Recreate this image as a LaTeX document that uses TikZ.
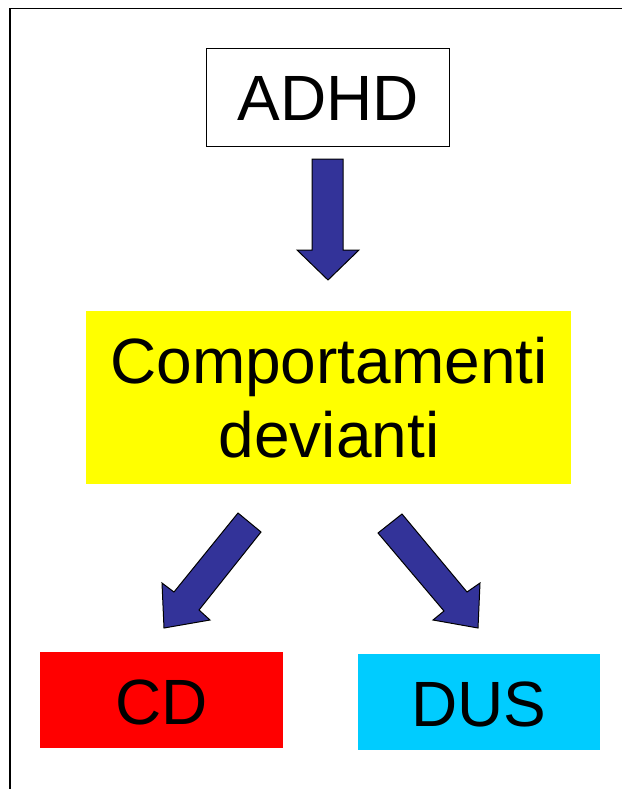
\documentclass[tikz,border=0pt]{standalone}
\usepackage{fontspec}
\setmainfont{Liberation Sans}
\begin{document}
\begin{tikzpicture}[x=1pt,y=-1pt,
  lbl/.style={inner sep=0pt,outer sep=0pt,font=\fontsize{64}{74}\selectfont,align=center},
  blockarrow/.style={draw=black,line width=1pt,fill=arrowblue,line join=miter}]
\definecolor{arrowblue}{HTML}{333399}
\definecolor{dusblue}{HTML}{00CCFF}
\definecolor{boxyellow}{HTML}{FFFF00}
\definecolor{boxred}{HTML}{FF0000}
\useasboundingbox (0,0) rectangle (622,789);
% partial outer frame
\draw[line width=1.6pt] (10,789) -- (10,8.5) -- (622,8.5);
% boxes
\draw[line width=1pt,fill=white] (206.5,48.5) rectangle (449.5,146);
\node[lbl] (adhd) at (328,98) {ADHD};
\fill[boxyellow] (86,311) rectangle (571,484);
\node[lbl] (comp) at (329,398) {Comportamenti\\devianti};
\fill[boxred] (40,652) rectangle (283,748);
\node[lbl] (cd) at (161.5,702) {CD};
\fill[dusblue] (358,654) rectangle (600,750);
\node[lbl] (dus) at (479,704) {DUS};
% block arrows
\draw[blockarrow] (312,159) -- (343,159) -- (343,250) -- (359,250) -- (328,280) -- (297,250) -- (312,250) -- cycle;
\draw[blockarrow] (238,513) -- (174,592) -- (162,583) -- (164,628) -- (210,620) -- (199,610) -- (261,532) -- cycle;
\draw[blockarrow] (402,514) -- (467,592) -- (480,583) -- (478,628) -- (433,620) -- (444,611) -- (378,533) -- cycle;
\end{tikzpicture}
\end{document}
